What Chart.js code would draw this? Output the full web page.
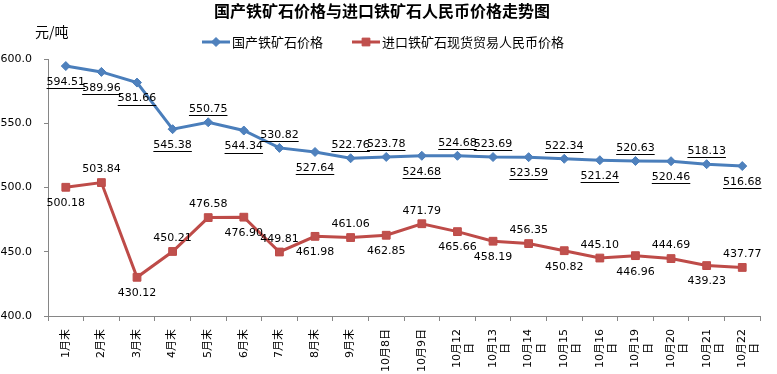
<!DOCTYPE html>
<html>
<head>
<meta charset="utf-8">
<script src="https://cdn.jsdelivr.net/npm/chart.js@4"></script>
<style>
  body { margin: 0; background: #fff; }
</style>
</head>
<body>
<canvas id="myChart" width="777" height="374"></canvas>
<script>
// the second line of a wrapped label gets trailing spaces so it sits centred, as in the original
const NB = '\u00a0\u00a0\u00a0\u00a0';
const months = ['1月末', '2月末', '3月末', '4月末', '5月末', '6月末', '7月末', '8月末', '9月末',
  '10月8日', '10月9日', ['10月12', '日' + NB], ['10月13', '日' + NB], ['10月14', '日' + NB], ['10月15', '日' + NB],
  ['10月16', '日' + NB], ['10月19', '日' + NB], ['10月20', '日' + NB], ['10月21', '日' + NB], ['10月22', '日' + NB]];

const domestic = [594.51, 589.96, 581.66, 545.38, 550.75, 544.34, 530.82, 527.64, 522.76, 523.78,
  524.68, 524.68, 523.69, 523.59, 522.34, 521.24, 520.63, 520.46, 518.13, 516.68];

const imported = [500.18, 503.84, 430.12, 450.21, 476.58, 476.90, 449.81, 461.98, 461.06, 462.85,
  471.79, 465.66, 458.19, 456.35, 450.82, 445.10, 446.96, 444.69, 439.23, 437.77];

const seriesNames = ['国产铁矿石价格', '进口铁矿石现货贸易人民币价格'];
const yTicks = [400, 450, 500, 550, 600];

// where each value label sits: a = above the point, b = below
const domesticLabelPos = ['b','b','b','b','a','b','a','b','a','a','b','a','a','b','a','b','a','b','a','b'];
const importedLabelPos = ['b','a','b','a','a','b','a','b','a','b','a','b','b','a','b','a','b','a','b','a'];

const FONT = "'DejaVu Sans', 'Noto Sans CJK SC', sans-serif";
const CJK = "'Noto Sans CJK SC', 'DejaVu Sans', sans-serif";

const valueLabels = {
  id: 'valueLabels',
  afterDatasetsDraw(chart) {
    const ctx = chart.ctx;
    ctx.save();
    ctx.font = '11px ' + FONT;
    ctx.fillStyle = '#000';
    ctx.strokeStyle = '#000';
    ctx.lineWidth = 1;
    ctx.textAlign = 'center';
    ctx.textBaseline = 'middle';
    chart.data.datasets.forEach((ds, di) => {
      const meta = chart.getDatasetMeta(di);
      const pos = di === 0 ? domesticLabelPos : importedLabelPos;
      meta.data.forEach((pt, i) => {
        const txt = ds.data[i].toFixed(2);
        const y = pt.y + (pos[i] === 'a' ? -13 : 16);
        ctx.fillText(txt, pt.x, y);
        if (di === 0) {
          const w = ctx.measureText(txt).width;
          ctx.beginPath();
          ctx.moveTo(pt.x - w / 2, Math.round(y + 6) + 0.5);
          ctx.lineTo(pt.x + w / 2, Math.round(y + 6) + 0.5);
          ctx.stroke();
        }
      });
    });
    ctx.restore();
  }
};

const headings = {
  id: 'headings',
  afterDraw(chart) {
    const ctx = chart.ctx;
    ctx.save();
    ctx.fillStyle = '#000';
    ctx.textBaseline = 'middle';
    ctx.textAlign = 'center';
    ctx.font = 'bold 16px ' + CJK;
    ctx.fillText('国产铁矿石价格与进口铁矿石人民币价格走势图', 382, 11);
    ctx.textAlign = 'left';
    ctx.font = '14px ' + CJK;
    ctx.fillText('元/吨', 35, 32);

    // legend: line with marker, then name
    const items = [
      { x: 202, ds: chart.data.datasets[0] },
      { x: 352, ds: chart.data.datasets[1] }
    ];
    items.forEach(it => {
      const y = 42;
      ctx.strokeStyle = it.ds.borderColor;
      ctx.lineWidth = 3;
      ctx.beginPath();
      ctx.moveTo(it.x, y);
      ctx.lineTo(it.x + 28, y);
      ctx.stroke();
      ctx.lineWidth = 1;
      ctx.fillStyle = it.ds.pointBackgroundColor;
      Chart.helpers.drawPoint(ctx, {
        pointStyle: it.ds.pointStyle,
        radius: it.ds.pointRadius,
        borderWidth: 1
      }, it.x + 14, y);
      ctx.fillStyle = '#000';
      ctx.font = '13px ' + CJK;
      ctx.fillText(it.ds.label, it.x + 30, y);
    });
    ctx.restore();
  }
};

const ctx = document.getElementById('myChart');
new Chart(ctx, {
  type: 'line',
  data: {
    labels: months,
    datasets: [{
      label: seriesNames[0],
      data: domestic,
      borderColor: '#4A7EBB',
      backgroundColor: '#4F81BD',
      pointBackgroundColor: '#4F81BD',
      pointBorderColor: '#4A7EBB',
      pointStyle: 'rectRot',
      pointRadius: 4.5,
      pointBorderWidth: 1,
      borderWidth: 3,
      tension: 0
    }, {
      label: seriesNames[1],
      data: imported,
      borderColor: '#BE4B48',
      backgroundColor: '#C0504D',
      pointBackgroundColor: '#C0504D',
      pointBorderColor: '#BE4B48',
      pointStyle: 'rect',
      pointRadius: 5.5,
      pointBorderWidth: 1,
      borderWidth: 3,
      tension: 0
    }]
  },
  options: {
    responsive: false,
    animation: false,
    layout: { padding: { top: 59, right: 14, left: 0, bottom: 0 } },
    plugins: {
      legend: { display: false },
      title: { display: false },
      tooltip: { enabled: false }
    },
    scales: {
      x: {
        offset: true,
        grid: { offset: true, drawOnChartArea: false, tickLength: 5, color: '#868686' },
        border: { color: '#868686' },
        ticks: {
          autoSkip: false,
          minRotation: 90,
          maxRotation: 90,
          padding: 8,
          color: '#000',
          font: { size: 11, family: FONT }
        },
        afterFit(scale) { scale.height = 58; }
      },
      y: {
        min: 400,
        max: 600,
        afterBuildTicks(scale) { scale.ticks = yTicks.map(v => ({ value: v })); },
        grid: { drawOnChartArea: false, tickLength: 4, color: '#868686' },
        border: { color: '#868686' },
        ticks: {
          padding: 12,
          color: '#000',
          font: { size: 11, family: FONT },
          callback: v => v.toFixed(1)
        },
        afterFit(scale) { scale.width = 48; }
      }
    }
  },
  plugins: [valueLabels, headings]
});
</script>
</body>
</html>
